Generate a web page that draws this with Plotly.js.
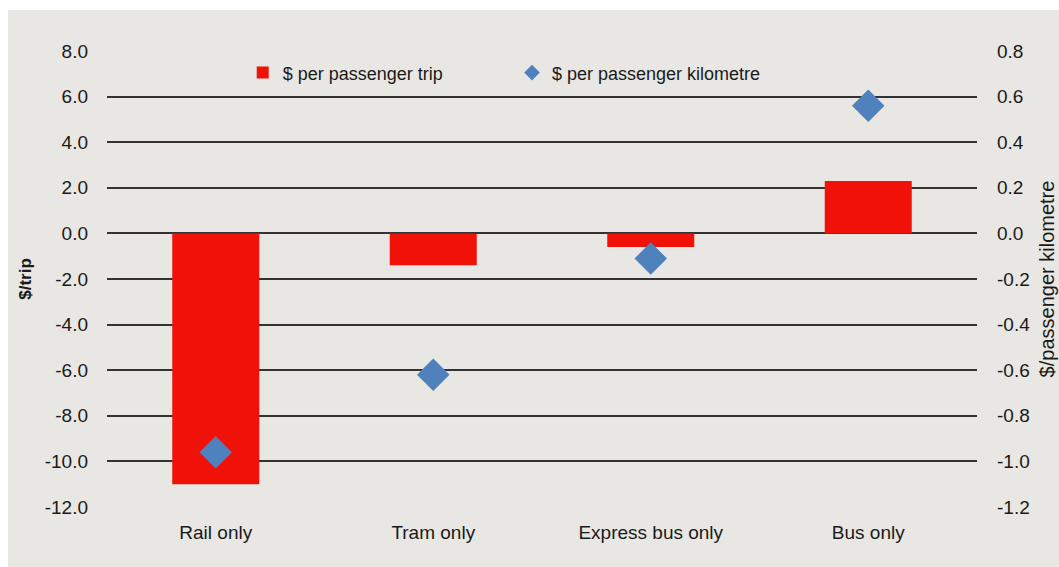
<!DOCTYPE html>
<html>
<head>
<meta charset="utf-8">
<script src="https://cdn.plot.ly/plotly-3.0.1.min.js"></script>
<style>
  html, body { margin: 0; padding: 0; background: #ffffff; width: 1059px; height: 567px; overflow: hidden; }
  #chart { position: absolute; left: 8px; top: 10px; width: 1051px; height: 557px; }
</style>
</head>
<body>
<div id="chart"></div>
<script>
const categories = ["Rail only", "Tram only", "Express bus only", "Bus only"];
const perTrip = [-11.0, -1.4, -0.6, 2.3];
const perKm = [-0.96, -0.62, -0.11, 0.56];
const leftTicks = [-12, -10, -8, -6, -4, -2, 0, 2, 4, 6, 8];
const leftTickText = ["-12.0", "-10.0", "-8.0", "-6.0", "-4.0", "-2.0", "0.0", "2.0", "4.0", "6.0", "8.0"];
const rightTicks = [-1.2, -1.0, -0.8, -0.6, -0.4, -0.2, 0, 0.2, 0.4, 0.6, 0.8];
const rightTickText = ["-1.2", "-1.0", "-0.8", "-0.6", "-0.4", "-0.2", "0.0", "0.2", "0.4", "0.6", "0.8"];

const font = "Liberation Sans, Arial, sans-serif";
const txt = "#1a1a1a";
const traces = [
  {
    type: "bar", name: "$ per passenger trip", x: categories, y: perTrip,
    marker: { color: "#f01208" }, yaxis: "y", legend: "legend"
  },
  {
    type: "scatter", mode: "markers", name: "$ per passenger kilometre",
    x: categories, y: perKm, yaxis: "y2", legend: "legend2",
    marker: { symbol: "diamond", size: 25, color: "#4f81bd" }
  }
];

const layout = {
  width: 1051, height: 557,
  margin: { l: 99, r: 82, t: 41, b: 60 },
  paper_bgcolor: "#e8e7e3", plot_bgcolor: "#e8e7e3",
  font: { family: font, size: 19, color: txt },
  bargap: 0.6,
  showlegend: true,
  legend: { x: 0.156, y: 0.952, xanchor: "left", yanchor: "middle", bgcolor: "rgba(0,0,0,0)",
            itemsizing: "constant", font: { family: font, size: 18, color: txt } },
  legend2: { x: 0.4655, y: 0.952, xanchor: "left", yanchor: "middle", bgcolor: "rgba(0,0,0,0)",
             itemsizing: "constant", font: { family: font, size: 18, color: txt } },
  xaxis: {
    type: "category", range: [-0.5, 3.5], showgrid: false, showline: false, zeroline: false,
    ticks: "", ticklabelstandoff: 12, tickfont: { size: 19, color: txt }, fixedrange: true
  },
  yaxis: {
    range: [-12, 8], tickvals: leftTicks, ticktext: leftTickText,
    showgrid: true, gridcolor: "#333333", gridwidth: 1.5,
    zeroline: true, zerolinecolor: "#333333", zerolinewidth: 1.5,
    showline: false, ticks: "", ticklabelstandoff: 18,
    tickfont: { size: 19, color: txt },
    title: { text: "$/trip", font: { size: 17, color: txt, family: font, weight: "bold" }, standoff: 8 },
    automargin: false
  },
  yaxis2: {
    overlaying: "y", side: "right", range: [-1.2, 0.8], tickvals: rightTicks, ticktext: rightTickText,
    showgrid: false, zeroline: false, showline: false, ticks: "", ticklabelstandoff: 19,
    tickfont: { size: 19, color: txt },
    title: { text: "$/passenger kilometre", font: { size: 20, color: txt, family: font }, standoff: 10 },
    automargin: false
  }
};

Plotly.newPlot("chart", traces, layout, { displayModeBar: false, responsive: false });
</script>
</body>
</html>
